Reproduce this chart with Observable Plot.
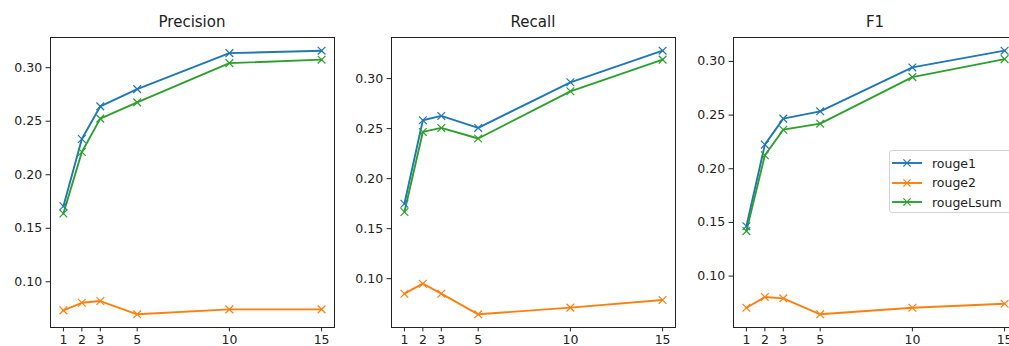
<!DOCTYPE html>
<html>
<head>
<meta charset="utf-8">
<script src="https://cdn.jsdelivr.net/npm/d3@7"></script>
<script src="https://cdn.jsdelivr.net/npm/@observablehq/plot@0.6"></script>
<style>
  html, body { margin: 0; padding: 0; background: #fff; }
  #wrap { position: relative; width: 1009px; height: 346px; overflow: hidden; font-family: "DejaVu Sans", sans-serif; }
  .panel { position: absolute; top: 0; width: 344px; height: 346px; }
  .panel svg { max-width: none !important; width: 344px; height: 346px; }
  .title { position: absolute; top: 13px; width: 284px; text-align: center; font-size: 15px; line-height: 18px; color: #222; }
  #legend { position: absolute; left: 889px; top: 150px; width: 140px; height: 61px; border: 1px solid #d3d3d3; border-radius: 3px; background: rgba(255,255,255,0.85); font-size: 12.5px; color: #222; }
  .lrow { position: absolute; left: 2px; height: 16px; display: flex; align-items: center; }
  .lrow span { margin-left: 10px; }
</style>
</head>
<body>
<div id="wrap"></div>
<script>
const steps = [1, 2, 3, 5, 10, 15];
const seriesNames = ["rouge1", "rouge2", "rougeLsum"];
const seriesColors = ["#1f77b4", "#ff7f0e", "#2ca02c"];
const yTicks = [0.10, 0.15, 0.20, 0.25, 0.30];
const panelTitles = ["Precision", "Recall", "F1"];

const precisionRouge1   = [0.1706, 0.2334, 0.2639, 0.2800, 0.3136, 0.3159];
const precisionRouge2   = [0.0733, 0.0804, 0.0820, 0.0696, 0.0742, 0.0742];
const precisionRougeLsum= [0.1638, 0.2213, 0.2524, 0.2676, 0.3043, 0.3075];

const recallRouge1      = [0.1749, 0.2584, 0.2627, 0.2507, 0.2963, 0.3279];
const recallRouge2      = [0.0850, 0.0950, 0.0850, 0.0644, 0.0711, 0.0787];
const recallRougeLsum   = [0.1666, 0.2467, 0.2507, 0.2401, 0.2873, 0.3190];

const f1Rouge1          = [0.1465, 0.2225, 0.2467, 0.2535, 0.2944, 0.3100];
const f1Rouge2          = [0.0705, 0.0805, 0.0793, 0.0644, 0.0705, 0.0742];
const f1RougeLsum       = [0.1419, 0.2126, 0.2364, 0.2420, 0.2854, 0.3021];

const panelData = [
  [precisionRouge1, precisionRouge2, precisionRougeLsum],
  [recallRouge1, recallRouge2, recallRougeLsum],
  [f1Rouge1, f1Rouge2, f1RougeLsum]
];
const panelLefts = [0, 341, 683];

const wrap = document.getElementById("wrap");

function padded(lo, hi) { const p = (hi - lo) * 0.05; return [lo - p, hi + p]; }

panelData.forEach((group, pi) => {
  const rows = [];
  group.forEach((vals, si) => vals.forEach((v, i) => rows.push({x: steps[i], v, s: seriesNames[si]})));
  const ext = d3.extent(rows, d => d.v);
  const plot = Plot.plot({
    width: 344, height: 346,
    marginLeft: 50, marginRight: 10, marginTop: 37, marginBottom: 19,
    style: {fontFamily: "DejaVu Sans, sans-serif", fontSize: "12.5px", color: "#222", background: "transparent", overflow: "visible"},
    x: {domain: padded(d3.min(steps), d3.max(steps))},
    y: {domain: padded(ext[0], ext[1])},
    color: {domain: seriesNames, range: seriesColors},
    marks: [
      Plot.axisX({ticks: steps, tickFormat: d => String(d), tickSize: 4.4, tickPadding: 3, label: null, stroke: "#222"}),
      Plot.axisY({ticks: yTicks, tickFormat: d3.format(".2f"), tickSize: 4.4, tickPadding: 4, label: null, stroke: "#222"}),
      Plot.line(rows, {x: "x", y: "v", stroke: "s", z: "s", strokeWidth: 1.9}),
      Plot.dot(rows, {x: "x", y: "v", stroke: "s", symbol: "times", r: 3.6, strokeWidth: 1.2}),
      Plot.frame({stroke: "#222", strokeWidth: 1})
    ]
  });
  const div = document.createElement("div");
  div.className = "panel";
  div.style.left = panelLefts[pi] + "px";
  div.appendChild(plot);
  wrap.appendChild(div);
  const t = document.createElement("div");
  t.className = "title";
  t.style.left = (panelLefts[pi] + 50) + "px";
  t.textContent = panelTitles[pi];
  wrap.appendChild(t);
});

const legend = document.createElement("div");
legend.id = "legend";
seriesNames.forEach((name, i) => {
  const row = document.createElement("div");
  row.className = "lrow";
  row.style.top = (4 + i * 19.7) + "px";
  const c = seriesColors[i];
  row.innerHTML = `<svg width="30" height="14"><line x1="0" y1="7" x2="30" y2="7" stroke="${c}" stroke-width="1.9"/><path d="M11.4,3.4L18.6,10.6M18.6,3.4L11.4,10.6" stroke="${c}" stroke-width="1.2"/></svg><span>${name}</span>`;
  legend.appendChild(row);
});
wrap.appendChild(legend);
</script>
</body>
</html>
